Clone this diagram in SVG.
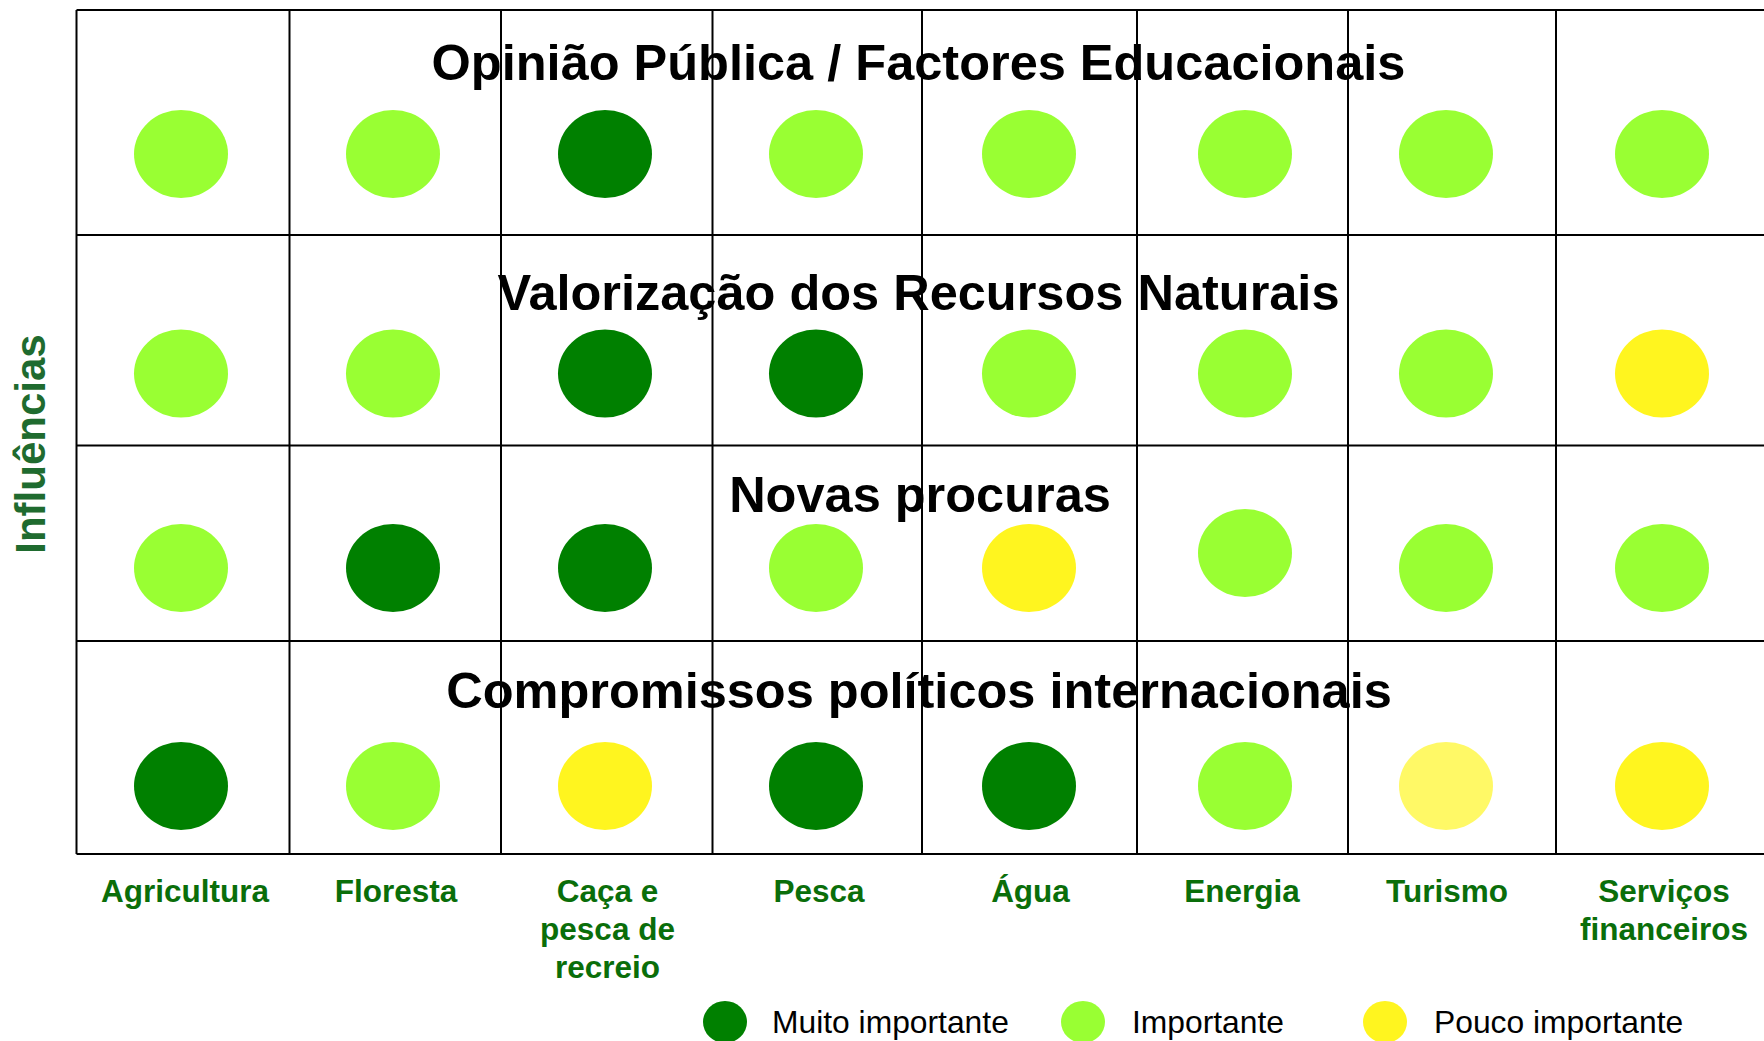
<svg xmlns="http://www.w3.org/2000/svg" width="1764" height="1041" viewBox="0 0 1764 1041">
<style>
.grid{stroke:#000;stroke-width:2;fill:none}
.title{font-family:"Liberation Sans",Arial,sans-serif;font-weight:bold;font-size:50.5px;fill:#000;text-anchor:middle}
.col{font-family:"Liberation Sans",Arial,sans-serif;font-weight:bold;font-size:31.5px;fill:#0A6E0A;text-anchor:middle}
.leg{font-family:"Liberation Sans",Arial,sans-serif;font-size:31.8px;fill:#000}
.axis{font-family:"Liberation Sans",Arial,sans-serif;font-weight:bold;font-size:42px;fill:#1F6B2F;text-anchor:middle}
.mi{fill:#008000}
.im{fill:#99FF33}
.po{fill:#FFF51F}
.pp{fill:#FFF966}
</style>
<rect width="1764" height="1041" fill="#fff"/>
<g id="grid" class="grid">
<line x1="76.5" y1="10" x2="1764" y2="10"/>
<line x1="76.5" y1="235" x2="1764" y2="235"/>
<line x1="76.5" y1="445.5" x2="1764" y2="445.5"/>
<line x1="76.5" y1="641" x2="1764" y2="641"/>
<line x1="76.5" y1="854" x2="1764" y2="854"/>
<line x1="76.5" y1="10" x2="76.5" y2="854"/>
<line x1="289.5" y1="10" x2="289.5" y2="854"/>
<line x1="501" y1="10" x2="501" y2="854"/>
<line x1="712.5" y1="10" x2="712.5" y2="854"/>
<line x1="922" y1="10" x2="922" y2="854"/>
<line x1="1137" y1="10" x2="1137" y2="854"/>
<line x1="1348" y1="10" x2="1348" y2="854"/>
<line x1="1556" y1="10" x2="1556" y2="854"/>
</g>
<g id="row1">
<text class="title" x="918.5" y="80">Opinião Pública / Factores Educacionais</text>
<ellipse class="im" cx="181" cy="154" rx="47" ry="44"/>
<ellipse class="im" cx="393" cy="154" rx="47" ry="44"/>
<ellipse class="mi" cx="605" cy="154" rx="47" ry="44"/>
<ellipse class="im" cx="816" cy="154" rx="47" ry="44"/>
<ellipse class="im" cx="1029" cy="154" rx="47" ry="44"/>
<ellipse class="im" cx="1245" cy="154" rx="47" ry="44"/>
<ellipse class="im" cx="1446" cy="154" rx="47" ry="44"/>
<ellipse class="im" cx="1662" cy="154" rx="47" ry="44"/>
</g>
<g id="row2">
<text class="title" x="918.5" y="310">Valorização dos Recursos Naturais</text>
<ellipse class="im" cx="181" cy="373.5" rx="47" ry="44"/>
<ellipse class="im" cx="393" cy="373.5" rx="47" ry="44"/>
<ellipse class="mi" cx="605" cy="373.5" rx="47" ry="44"/>
<ellipse class="mi" cx="816" cy="373.5" rx="47" ry="44"/>
<ellipse class="im" cx="1029" cy="373.5" rx="47" ry="44"/>
<ellipse class="im" cx="1245" cy="373.5" rx="47" ry="44"/>
<ellipse class="im" cx="1446" cy="373.5" rx="47" ry="44"/>
<ellipse class="po" cx="1662" cy="373.5" rx="47" ry="44"/>
</g>
<g id="row3">
<text class="title" x="920" y="512">Novas procuras</text>
<ellipse class="im" cx="181" cy="568" rx="47" ry="44"/>
<ellipse class="mi" cx="393" cy="568" rx="47" ry="44"/>
<ellipse class="mi" cx="605" cy="568" rx="47" ry="44"/>
<ellipse class="im" cx="816" cy="568" rx="47" ry="44"/>
<ellipse class="po" cx="1029" cy="568" rx="47" ry="44"/>
<ellipse class="im" cx="1245" cy="553" rx="47" ry="44"/>
<ellipse class="im" cx="1446" cy="568" rx="47" ry="44"/>
<ellipse class="im" cx="1662" cy="568" rx="47" ry="44"/>
</g>
<g id="row4">
<text class="title" x="919" y="708">Compromissos políticos internacionais</text>
<ellipse class="mi" cx="181" cy="786" rx="47" ry="44"/>
<ellipse class="im" cx="393" cy="786" rx="47" ry="44"/>
<ellipse class="po" cx="605" cy="786" rx="47" ry="44"/>
<ellipse class="mi" cx="816" cy="786" rx="47" ry="44"/>
<ellipse class="mi" cx="1029" cy="786" rx="47" ry="44"/>
<ellipse class="im" cx="1245" cy="786" rx="47" ry="44"/>
<ellipse class="pp" cx="1446" cy="786" rx="47" ry="44"/>
<ellipse class="po" cx="1662" cy="786" rx="47" ry="44"/>
</g>
<g id="columns">
<text class="col" x="185" y="902">Agricultura</text>
<text class="col" x="396" y="902">Floresta</text>
<text class="col" x="607.5" y="902">Caça e<tspan x="607.5" y="940">pesca de</tspan><tspan x="607.5" y="978">recreio</tspan></text>
<text class="col" x="819" y="902">Pesca</text>
<text class="col" x="1030.5" y="902">Água</text>
<text class="col" x="1242" y="902">Energia</text>
<text class="col" x="1447" y="902">Turismo</text>
<text class="col" x="1664" y="902">Serviços<tspan x="1664" y="940">financeiros</tspan></text>
</g>
<g id="axis">
<text class="axis" transform="translate(44.5 444) rotate(-90)">Influências</text>
</g>
<g id="legend">
<ellipse class="mi" cx="725" cy="1022" rx="22" ry="21"/>
<text class="leg" x="772" y="1033">Muito importante</text>
<ellipse class="im" cx="1083" cy="1022" rx="22" ry="21"/>
<text class="leg" x="1132" y="1033">Importante</text>
<ellipse class="po" cx="1385" cy="1022" rx="22" ry="21"/>
<text class="leg" x="1434" y="1033">Pouco importante</text>
</g>
</svg>
